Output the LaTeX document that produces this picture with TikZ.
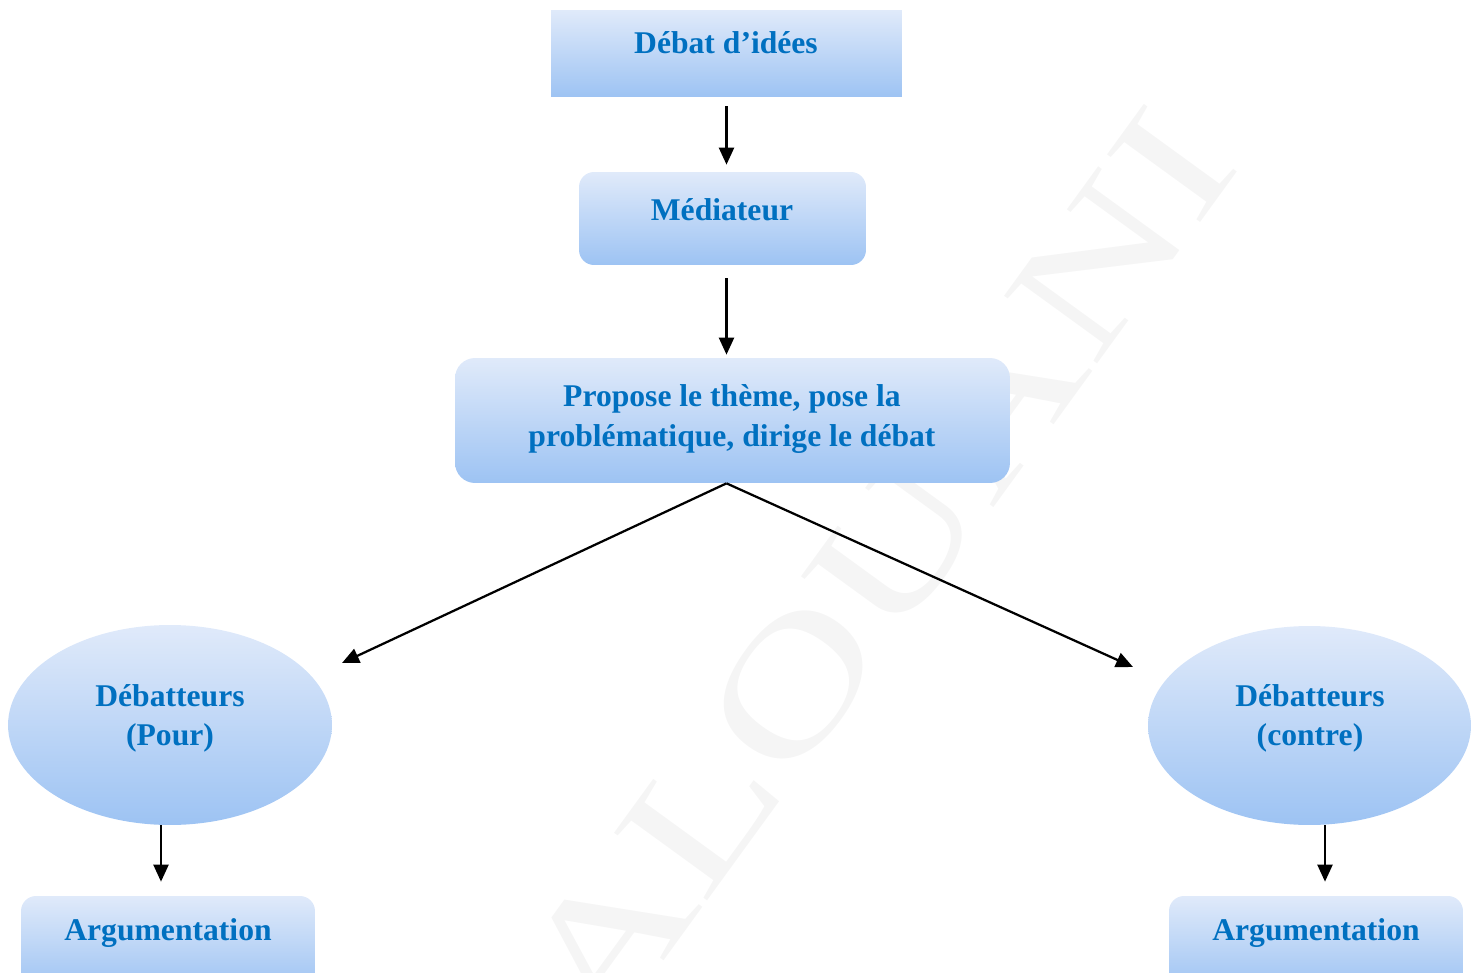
\documentclass[tikz,border=0pt]{standalone}
\usepackage{fontspec}
\setmainfont{Liberation Serif}
\usetikzlibrary{arrows.meta,shapes.geometric}
\definecolor{titre}{RGB}{0,112,192}
\definecolor{haut}{RGB}{224,234,250}
\definecolor{bas}{RGB}{157,195,243}
\tikzset{
  boite/.style={draw=none, top color=haut, bottom color=bas, inner sep=0pt},
  arrondi/.style={boite, rounded corners=0.3cm},
  bulle/.style={boite, ellipse},
  texte/.style={text=titre, font=\fontsize{18}{22.2}\selectfont\bfseries, align=center, inner sep=0pt},
  fleche/.style={-{Triangle[length=0.34cm,width=0.3cm]}, line width=0.045cm},
}
\begin{document}
\begin{tikzpicture}[x=0.02cm, y=-0.02cm]
\clip (0,0) rectangle (1481,973);
% filigrane
\node (filigrane) at (876,572) [rotate=54, xscale=1.36, text=black!4, font=\fontsize{100}{100}\selectfont] {ALOUANI};
    \node (idees) at (726.5,53.5) [boite, minimum width=7.02cm, minimum height=1.74cm] {};
    \node (mediateur) at (722.5,218.5) [arrondi, minimum width=5.74cm, minimum height=1.86cm] {};
    \node (theme) at (732.5,420.5) [arrondi, rounded corners=0.4cm, minimum width=11.1cm, minimum height=2.5cm] {};
    \node (pour) at (170,725) [bulle, minimum width=6.48cm, minimum height=4cm] {};
    \node (contre) at (1309.5,725.5) [bulle, minimum width=6.46cm, minimum height=3.98cm] {};
    \node (argpour) at (168,943) [arrondi, minimum width=5.88cm, minimum height=1.88cm] {};
    \node (argcontre) at (1316,943) [arrondi, minimum width=5.88cm, minimum height=1.88cm] {};
% textes
    \node (tidees) at (726,43) [texte] {Débat d’idées};
    \node (tmediateur) at (722,210) [texte] {Médiateur};
    \node (ttheme) at (732,419) [texte] {Propose le thème, pose la\\problématique, dirige le débat};
    \node (tpour) at (170,718) [texte] {Débatteurs\\(Pour)};
    \node (tcontre) at (1310,718) [texte] {Débatteurs\\(contre)};
    \node (targpour) at (168,933) [texte] {Argumentation};
    \node (targcontre) at (1316,933) [texte] {Argumentation};
    \coordinate (pointepour) at (342,663);
    \coordinate (pointecontre) at (1133,667);
\draw[fleche, shorten <=0.18cm, shorten >=0.14cm] (idees.south) -- (idees.south |- mediateur.north);
\draw[fleche, shorten <=0.26cm, shorten >=0.06cm] (idees.south |- mediateur.south) -- (idees.south |- theme.north);
\draw[fleche] (idees.south |- theme.south) -- (pointepour);
\draw[fleche] (idees.south |- theme.south) -- (pointecontre);
\draw[fleche, shorten >=0.28cm] ([xshift=-0.18cm]pour.south) -- ([xshift=-0.18cm]pour.south |- argpour.north);
\draw[fleche, shorten >=0.28cm] ([xshift=0.31cm]contre.south) -- ([xshift=0.31cm]contre.south |- argcontre.north);
\end{tikzpicture}
\end{document}
